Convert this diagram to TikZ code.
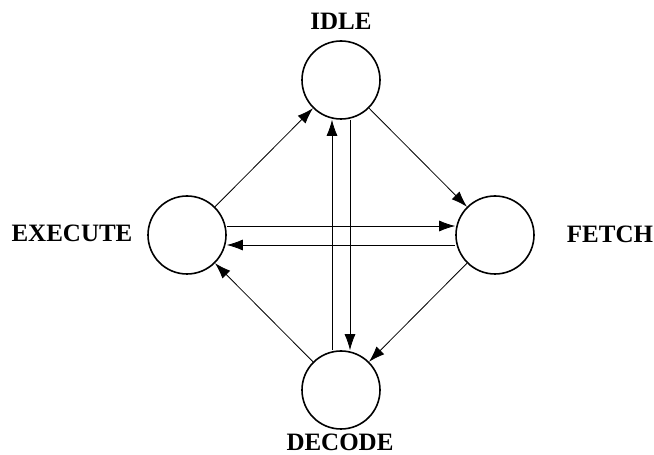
\documentclass[tikz,border=0pt]{standalone}
\usepackage{fontspec}
\setmainfont{Liberation Serif}
\usepackage{tikz}
\usetikzlibrary{arrows.meta,positioning}

\tikzset{
    state/.style={circle, draw, line width=1.6pt, minimum size=78pt, inner sep=0pt},
    statename/.style={font=\fontsize{25}{30}\selectfont\bfseries, anchor=base, inner sep=0pt},
    trans/.style={-{Latex[length=16pt,width=11pt]}, line width=0.8pt}
}

\begin{document}
\begin{tikzpicture}[x=1pt, y=1pt]
    \useasboundingbox (0,0) rectangle (654,455);

    % States
    \node[state] (idle) at (341, 375) {};
    \node[state] (execute) at (187, 220) {};
    \node[state] (fetch) at (495, 220) {};
    \node[state] (decode) at (341, 65) {};

    % State names
    \node[statename] (idlename) at (341, 425) {IDLE};
    \node[statename] (executename) at (72, 213) {EXECUTE};
    \node[statename] (fetchname) at (610, 212) {FETCH};
    \node[statename] (decodename) at (340, 4) {DECODE};

    % Outer transitions
    \draw[trans] (idle) -- (fetch);
    \draw[trans] (fetch) -- (decode);
    \draw[trans] (decode) -- (execute);
    \draw[trans] (execute) -- (idle);

    % Inner transitions
    \draw[trans] ([yshift=9pt]execute.east) -- ([yshift=9pt]fetch.west);
    \draw[trans] ([yshift=-10pt]fetch.west) -- ([yshift=-10pt]execute.east);
    \draw[trans] ([xshift=-9pt]decode.north) -- ([xshift=-9pt]idle.south);
    \draw[trans] ([xshift=9pt]idle.south) -- ([xshift=9pt]decode.north);
\end{tikzpicture}
\end{document}
